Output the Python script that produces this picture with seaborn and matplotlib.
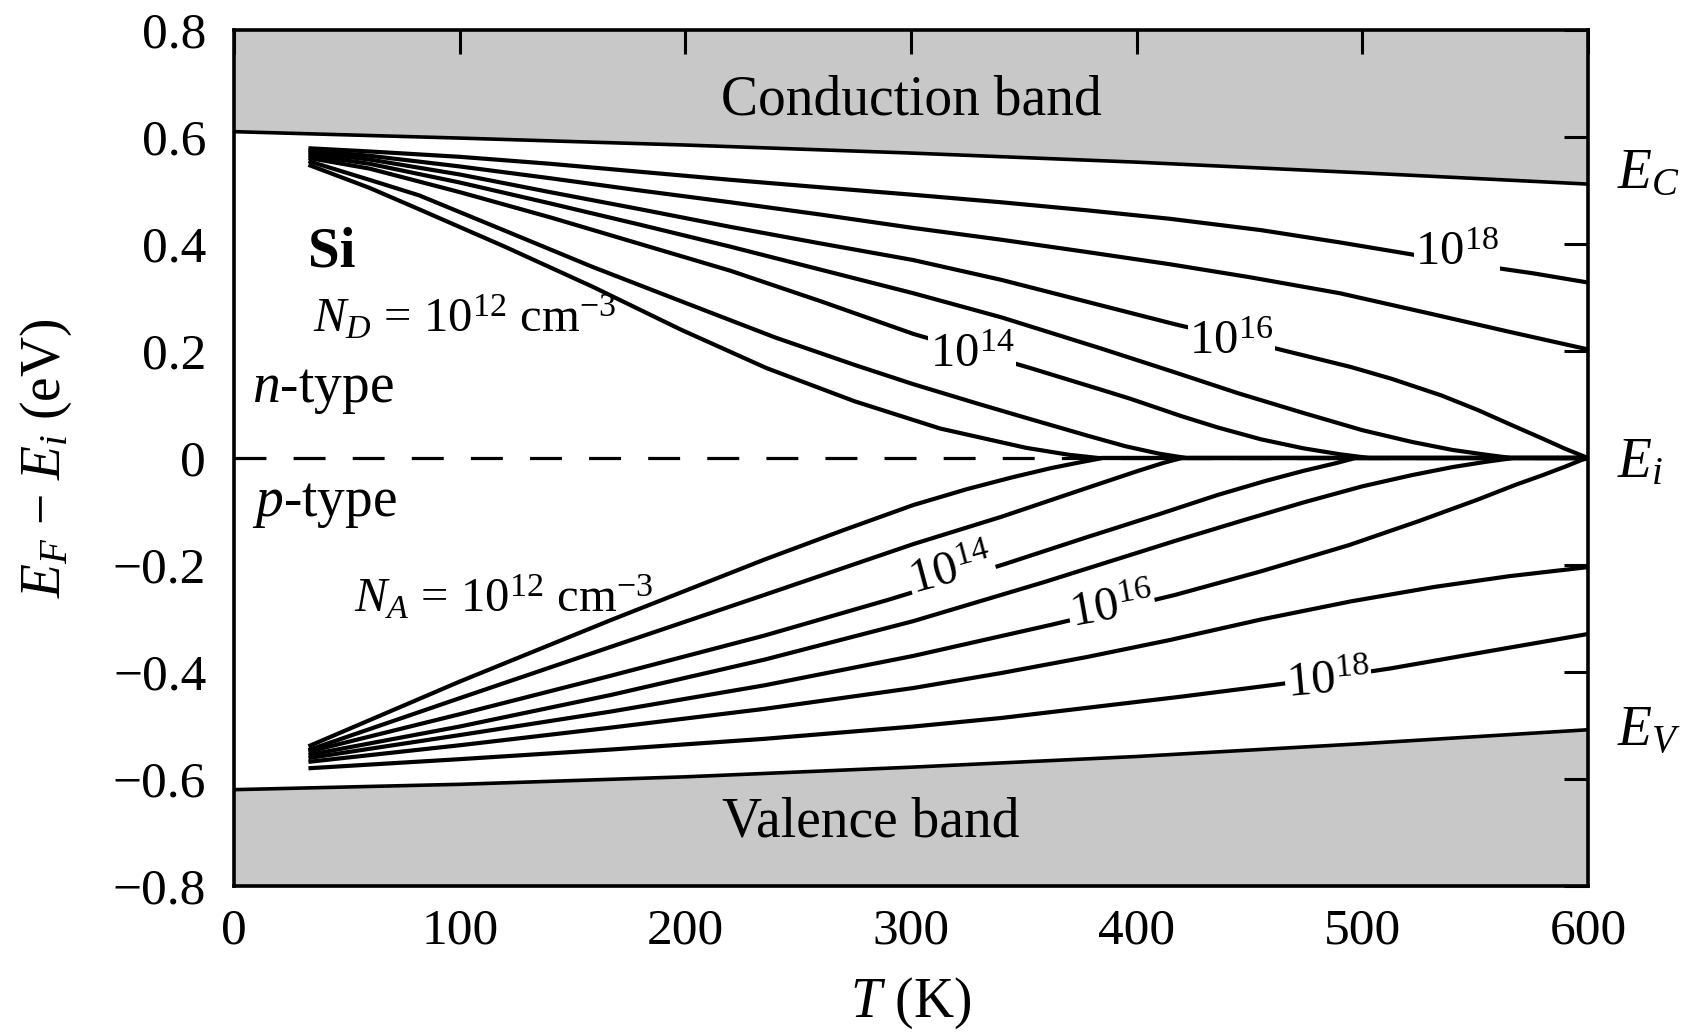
import numpy as np
import pandas as pd
import matplotlib
matplotlib.use("Agg")
import matplotlib.pyplot as plt
import seaborn as sns

# ---------------- data ----------------
band_T = [0, 100, 200, 300, 400, 500, 600]
Ec = [0.610, 0.598, 0.585, 0.570, 0.553, 0.533, 0.512]
Ev = [-0.620, -0.610, -0.596, -0.578, -0.558, -0.534, -0.508]

# n-type curves (N_D = 1e12 ... 1e18)
n12_T = [33, 60, 82, 120, 159, 198, 236, 275, 313, 351, 370, 383, 600]
n12_E = [0.548, 0.505, 0.465, 0.395, 0.320, 0.240, 0.168, 0.106, 0.055, 0.019, 0.006, 0.0, 0.0]
n13_T = [33, 60, 82, 120, 159, 200, 240, 275, 301, 330, 351, 378, 395, 410, 422, 600]
n13_E = [0.555, 0.520, 0.491, 0.425, 0.357, 0.290, 0.225, 0.174, 0.138, 0.101, 0.075, 0.042,
         0.022, 0.008, 0.0, 0.0]
n14_T = [33, 60, 100, 140, 180, 220, 260, 301, 353, 384, 397, 420, 436, 455, 474, 490, 503, 600]
n14_E = [0.561, 0.541, 0.497, 0.450, 0.400, 0.350, 0.293, 0.232, 0.168, 0.128, 0.111, 0.078,
         0.057, 0.035, 0.018, 0.007, 0.0, 0.0]
n15_T = [33, 60, 100, 140, 180, 220, 260, 301, 340, 384, 417, 445, 474, 500, 522, 540, 555, 566, 600]
n15_E = [0.566, 0.550, 0.515, 0.476, 0.436, 0.395, 0.352, 0.308, 0.263, 0.205, 0.160, 0.121,
         0.084, 0.052, 0.030, 0.015, 0.006, 0.0, 0.0]
n16_T = [33, 60, 100, 140, 180, 220, 260, 301, 340, 378, 417, 445, 470, 495, 513, 535, 551,
         567, 580, 590, 600]
n16_E = [0.571, 0.558, 0.530, 0.497, 0.465, 0.432, 0.401, 0.370, 0.333, 0.292, 0.250, 0.222,
         0.196, 0.170, 0.148, 0.117, 0.090, 0.060, 0.036, 0.017, 0.0]
n17_T = [33, 60, 100, 140, 180, 220, 260, 301, 340, 378, 415, 450, 490, 532, 565, 600]
n17_E = [0.575, 0.565, 0.545, 0.523, 0.500, 0.478, 0.455, 0.430, 0.408, 0.385, 0.362, 0.338,
         0.308, 0.268, 0.236, 0.203]
n18_T = [33, 60, 100, 140, 180, 220, 260, 301, 340, 378, 415, 455, 490, 517, 545, 576, 600]
n18_E = [0.579, 0.573, 0.563, 0.550, 0.535, 0.520, 0.506, 0.492, 0.478, 0.463, 0.447, 0.426,
         0.403, 0.384, 0.364, 0.345, 0.328]

# p-type curves (N_A = 1e12 ... 1e18)
p12_T = [33, 100, 167, 235, 270, 301, 325, 345, 362, 375, 385, 600]
p12_E = [-0.539, -0.418, -0.303, -0.190, -0.135, -0.088, -0.058, -0.036, -0.019, -0.008, 0.0, 0.0]
p13_T = [33, 100, 167, 235, 301, 340, 378, 400, 412, 420, 600]
p13_E = [-0.546, -0.449, -0.353, -0.256, -0.161, -0.110, -0.056, -0.025, -0.009, 0.0, 0.0]
p14_T = [33, 100, 167, 235, 290, 341, 378, 410, 436, 457, 474, 488, 497, 600]
p14_E = [-0.549, -0.479, -0.407, -0.332, -0.265, -0.199, -0.148, -0.105, -0.069, -0.043,
         -0.024, -0.010, 0.0, 0.0]
p15_T = [33, 100, 167, 235, 301, 359, 417, 446, 474, 500, 522, 540, 555, 567, 600]
p15_E = [-0.555, -0.502, -0.443, -0.377, -0.305, -0.232, -0.155, -0.118, -0.083, -0.053,
         -0.032, -0.017, -0.007, 0.0, 0.0]
p16_T = [33, 100, 167, 235, 301, 363, 417, 455, 494, 525, 551, 568, 580, 590, 597, 600]
p16_E = [-0.561, -0.518, -0.474, -0.425, -0.370, -0.311, -0.256, -0.212, -0.163, -0.118,
         -0.078, -0.050, -0.032, -0.016, -0.004, 0.0]
p17_T = [33, 100, 167, 235, 301, 340, 378, 415, 455, 495, 532, 565, 600]
p17_E = [-0.568, -0.537, -0.504, -0.469, -0.430, -0.402, -0.372, -0.340, -0.302, -0.268,
         -0.241, -0.221, -0.204]
p18_T = [33, 100, 167, 235, 301, 340, 378, 420, 461, 488, 513, 555, 600]
p18_E = [-0.580, -0.563, -0.545, -0.525, -0.502, -0.486, -0.467, -0.446, -0.424, -0.409,
         -0.393, -0.362, -0.329]

x_ticks = [0, 100, 200, 300, 400, 500, 600]
x_tick_labels = ["0", "100", "200", "300", "400", "500", "600"]
y_ticks = [-0.8, -0.6, -0.4, -0.2, 0.0, 0.2, 0.4, 0.6, 0.8]
y_tick_labels = ["\u22120.8", "\u22120.6", "\u22120.4", "\u22120.2", "0", "0.2", "0.4", "0.6", "0.8"]

# curve labels: (text, T, E, rotation)
curve_labels = [
    ("10$^{18}$", 542, 0.383, 0),
    ("10$^{16}$", 442, 0.216, 0),
    ("10$^{14}$", 327, 0.192, 0),
    ("10$^{14}$", 318, -0.212, 15),
    ("10$^{16}$", 389, -0.280, 10),
    ("10$^{18}$", 485, -0.418, 5),
]

# ---------------- styling ----------------
sns.set_theme(style="white")
plt.rcParams["font.family"] = ["Liberation Serif", "DejaVu Serif"]
plt.rcParams["mathtext.fontset"] = "custom"
plt.rcParams["mathtext.rm"] = "Liberation Serif"
plt.rcParams["mathtext.it"] = "Liberation Serif:italic"
plt.rcParams["mathtext.bf"] = "Liberation Serif:bold"
plt.rcParams["text.color"] = "black"
plt.rcParams["axes.labelcolor"] = "black"
plt.rcParams["xtick.color"] = "black"
plt.rcParams["ytick.color"] = "black"

fig = plt.figure(figsize=(16.82, 10.35), dpi=100)
ax = fig.add_axes([0.1391, 0.1440, 0.8050, 0.8270])

curves = {
    "n12": (n12_T, n12_E), "n13": (n13_T, n13_E), "n14": (n14_T, n14_E),
    "n15": (n15_T, n15_E), "n16": (n16_T, n16_E), "n17": (n17_T, n17_E),
    "n18": (n18_T, n18_E),
    "p12": (p12_T, p12_E), "p13": (p13_T, p13_E), "p14": (p14_T, p14_E),
    "p15": (p15_T, p15_E), "p16": (p16_T, p16_E), "p17": (p17_T, p17_E),
    "p18": (p18_T, p18_E),
}
frames = []
for name, (tt, ee) in curves.items():
    frames.append(pd.DataFrame({"T": tt, "E": ee, "curve": name}))
df = pd.concat(frames, ignore_index=True)

bands = pd.DataFrame({"T": band_T + band_T, "E": Ec + Ev,
                      "curve": ["Ec"] * len(band_T) + ["Ev"] * len(band_T)})

grey = "#c8c8c8"
ax.fill_between(band_T, Ec, 0.8, color=grey, lw=0, zorder=0)
ax.fill_between(band_T, Ev, -0.8, color=grey, lw=0, zorder=0)

# intrinsic level (dashed)
ax.plot([0, 600], [0, 0], color="black", lw=2.3, dashes=(10, 8.5), zorder=1)

sns.lineplot(data=bands, x="T", y="E", units="curve", estimator=None, sort=False,
             color="black", lw=2.6, ax=ax, zorder=3, legend=False)
sns.lineplot(data=df, x="T", y="E", units="curve", estimator=None, sort=False,
             color="black", lw=3.0, ax=ax, zorder=3, legend=False)
for ln in ax.lines:
    ln.set_solid_joinstyle("round")
    ln.set_solid_capstyle("butt")

ax.set_xlim(0, 600)
ax.set_ylim(-0.8, 0.8)
ax.set_xticks(x_ticks)
ax.set_xticklabels(x_tick_labels)
ax.set_yticks(y_ticks)
ax.set_yticklabels(y_tick_labels)
ax.tick_params(axis="both", direction="in", length=17, width=2.2, top=True, right=True,
               labelsize=37, colors="black")
ax.tick_params(axis="x", pad=16)
ax.tick_params(axis="y", pad=20)
for sp in ax.spines.values():
    sp.set_visible(True)
    sp.set_color("black")
    sp.set_linewidth(2.6)
    sp.set_zorder(5)

ax.set_xlabel("$T$ (K)", fontsize=40)
ax.xaxis.set_label_coords(0.5, -0.105)
ax.set_ylabel("$E_F$ \u2212 $E_i$ (eV)", fontsize=40)
ax.yaxis.set_label_coords(-0.118, 0.5)

# text annotations
ax.text(300, 0.668, "Conduction band", fontsize=40, ha="center", va="center", zorder=6)
ax.text(282, -0.682, "Valence band", fontsize=40, ha="center", va="center", zorder=6)
ax.text(33, 0.385, "Si", fontsize=41, fontweight="bold", ha="left", va="center", zorder=6)
ax.text(35, 0.262, "$N_D$ = 10$^{12}$ cm$^{-3}$", fontsize=35, ha="left", va="center", zorder=6)
ax.text(8, 0.128, "$n$-type", fontsize=40, ha="left", va="center", zorder=6)
ax.text(8, -0.086, "$p$-type", fontsize=40, ha="left", va="center", zorder=6)
ax.text(53, -0.262, "$N_A$ = 10$^{12}$ cm$^{-3}$", fontsize=35, ha="left", va="center", zorder=6)

for txt, tx, ey, rot in curve_labels:
    ax.text(tx, ey, txt, fontsize=35, ha="center", va="center", rotation=rot,
            rotation_mode="anchor", zorder=6,
            bbox=dict(facecolor="white", edgecolor="none", pad=1))

ax.text(613, 0.530, "$E_C$", fontsize=40, ha="left", va="center", clip_on=False)
ax.text(613, -0.010, "$E_i$", fontsize=40, ha="left", va="center", clip_on=False)
ax.text(613, -0.512, "$E_V$", fontsize=40, ha="left", va="center", clip_on=False)

fig.savefig("out.png", dpi=100, facecolor="white")
